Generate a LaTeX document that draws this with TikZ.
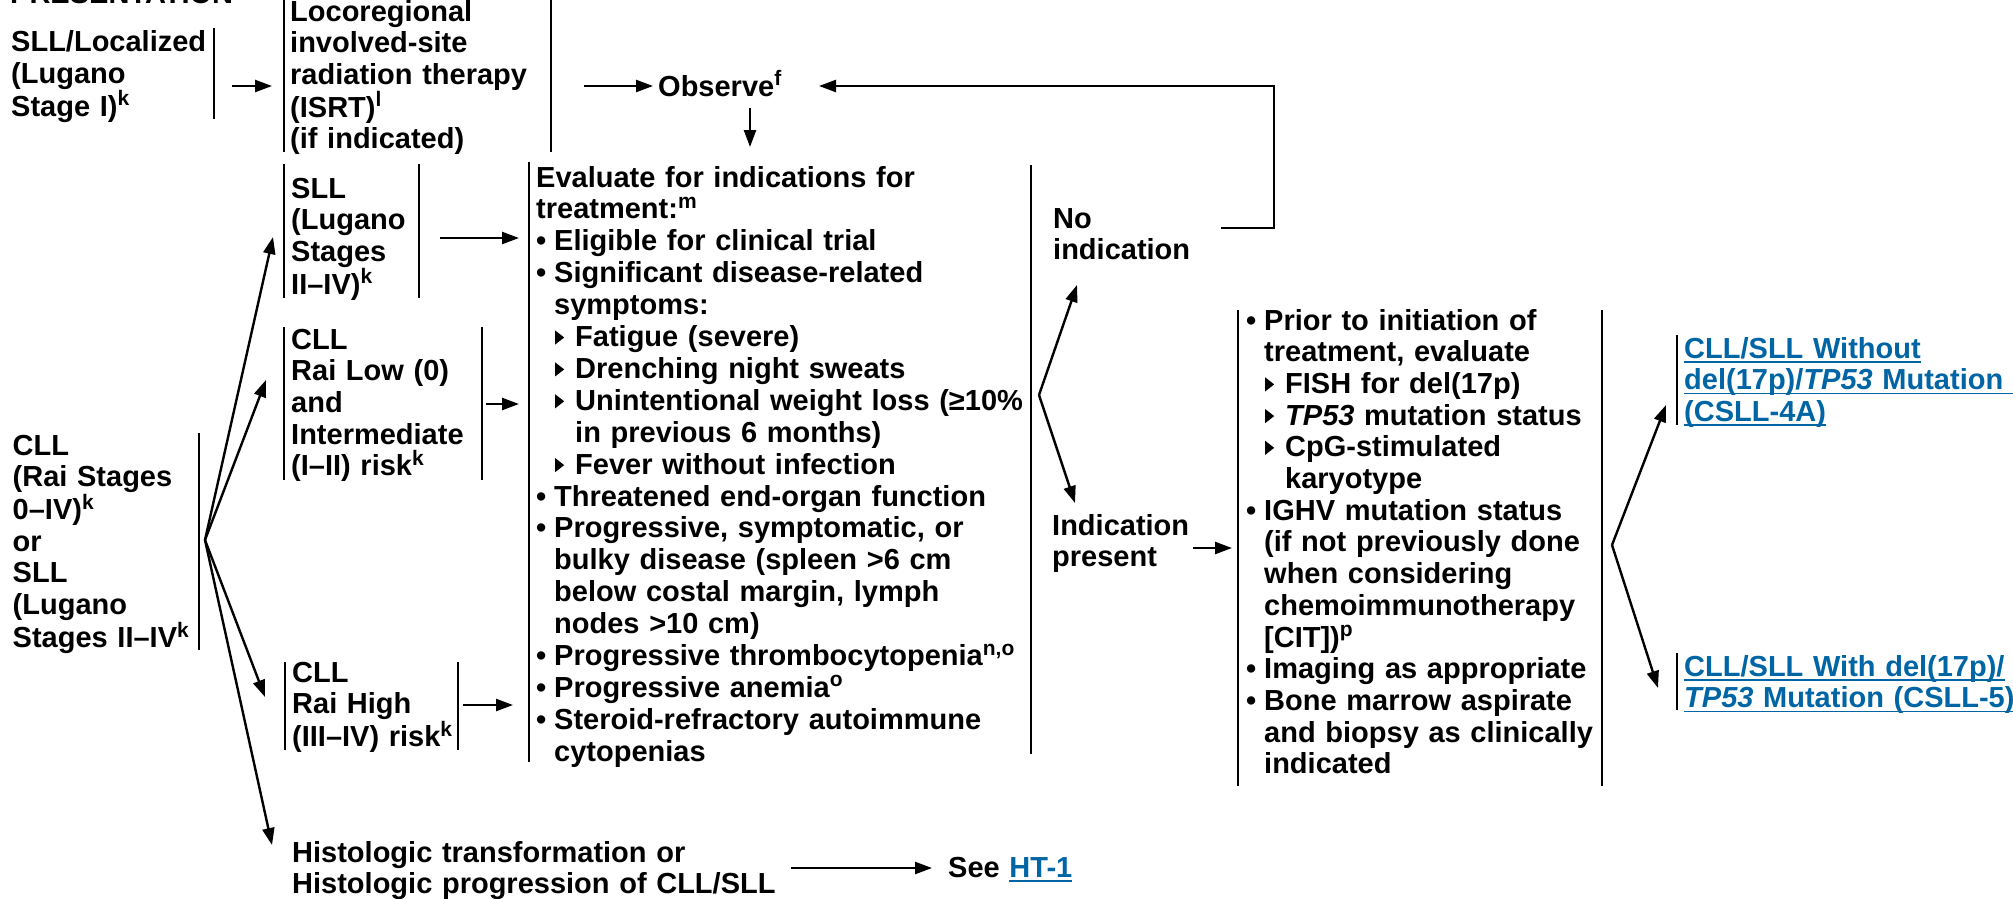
\documentclass[tikz,border=0pt]{standalone}
\usepackage{fontspec}
\setmainfont{Liberation Sans}
\usetikzlibrary{arrows.meta}
\definecolor{linkblue}{RGB}{0,101,164}
\newcommand\sps[1]{\raisebox{10.5pt}{\fontsize{21}{21}\selectfont #1}}
\newcommand\bul{\makebox[18pt][l]{•}}
\newcommand\ind{\hspace*{18pt}}
\newcommand\tri{\tikz[x=1pt,y=1pt,baseline=0pt]\fill (0,2) -- (0,16) -- (9,9) -- cycle;}
\newcommand\subb{\hspace*{19pt}\makebox[20pt][l]{\tri}}
\newcommand\subind{\hspace*{39pt}}
\newsavebox\lnkbox
\newcommand\lnk[1]{\textcolor{linkblue}{\sbox\lnkbox{#1}\rlap{\rule[-4.5pt]{\wd\lnkbox}{1.6pt}}\usebox\lnkbox}}
\begin{document}
\begin{tikzpicture}[x=1pt,y=-1pt,
  txt/.style={anchor=base west, inner sep=0pt, align=left, text width=560pt,
    font=\bfseries\fontsize{29}{31.7}\selectfont},
  etxt/.style={txt, font=\bfseries\fontsize{29}{31.9}\selectfont},
  bar/.style={line width=2.4pt},
  arr/.style={line width=2.4pt,-{Triangle[length=17pt,width=12pt]}}]
\useasboundingbox (0,0) rectangle (2013,898);

% ---- texts ----
\node[txt] (pres) at (10,3) {PRESENTATION};
\node[txt] (A) at (11,51.5) {SLL/Localized\\(Lugano\\Stage I)\sps{k}};
\node[txt] (B) at (290,21) {Locoregional\\involved-site\\radiation therapy\\(ISRT)\sps{l}\\(if indicated)};
\node[txt] (obs) at (658,96) {Observe\sps{f}};
\node[txt] (sll) at (291,198) {SLL\\(Lugano\\Stages\\II–IV)\sps{k}};
\node[txt] (rlow) at (291,349) {CLL\\Rai Low (0)\\and\\Intermediate\\(I–II) risk\sps{k}};
\node[txt] (rhigh) at (292,682) {CLL\\Rai High\\(III–IV) risk\sps{k}};
\node[txt] (cll) at (12.5,455) {CLL\\(Rai Stages\\0–IV)\sps{k}\\or\\SLL\\(Lugano\\Stages II–IV\sps{k}};
\node[txt] (hist) at (292,862) {Histologic transformation or\\Histologic progression of CLL/SLL};
\node[txt] (see) at (948,877) {See \lnk{HT-1}};
\node[etxt] (E) at (536,187) {Evaluate for indications for\\
treatment:\sps{m}\\
\bul Eligible for clinical trial\\
\bul Significant disease-related\\
\ind symptoms:\\
\subb Fatigue (severe)\\
\subb Drenching night sweats\\
\subb Unintentional weight loss (≥10\%\\
\subind in previous 6 months)\\
\subb Fever without infection\\
\bul Threatened end-organ function\\
\bul Progressive, symptomatic, or\\
\ind bulky disease (spleen >6 cm\\
\ind below costal margin, lymph\\
\ind nodes >10 cm)\\
\bul Progressive thrombocytopenia\sps{n,o}\\
\bul Progressive anemia\sps{o}\\
\bul Steroid-refractory autoimmune\\
\ind cytopenias};
\node[txt] (noind) at (1053,228) {No\\indication};
\node[txt] (indp) at (1052,535) {Indication\\present};
\node[txt] (R) at (1246,330) {\bul Prior to initiation of\\
\ind treatment, evaluate\\
\subb FISH for del(17p)\\
\subb \textit{TP53} mutation status\\
\subb CpG-stimulated\\
\subind karyotype\\
\bul IGHV mutation status\\
\ind (if not previously done\\
\ind when considering\\
\ind chemoimmunotherapy\\
\ind [CIT])\sps{p}\\
\bul Imaging as appropriate\\
\bul Bone marrow aspirate\\
\ind and biopsy as clinically\\
\ind indicated};
\node[txt] (L1) at (1684,358) {\lnk{CLL/SLL Without}\\\lnk{del(17p)/\textit{TP53} Mutation\ }\\\lnk{(CSLL-4A)}};
\node[txt] (L2) at (1684,676) {\lnk{CLL/SLL With del(17p)/}\\\lnk{\textit{TP53} Mutation (CSLL-5)}};

% ---- bars ----
\draw[bar] (214,28) -- (214,119);
\draw[bar] (284,0) -- (284,152);
\draw[bar] (551,0) -- (551,152);
\draw[bar] (284,164) -- (284,298);
\draw[bar] (419,164) -- (419,298);
\draw[bar] (284,327) -- (284,480);
\draw[bar] (482,327) -- (482,480);
\draw[bar] (285,662) -- (285,750);
\draw[bar] (458,662) -- (458,750);
\draw[bar] (199,433) -- (199,650);
\draw[bar] (529,162) -- (529,762);
\draw[bar] (1031,165) -- (1031,754);
\draw[bar] (1238,310) -- (1238,786);
\draw[bar] (1602,310) -- (1602,786);
\draw[bar] (1677,335) -- (1677,425);
\draw[bar] (1677,653) -- (1677,710);

% ---- connector points ----
\coordinate (a1) at (232,86);   \coordinate (b1) at (272,86);
\coordinate (b2) at (584,86);   \coordinate (o1) at (653,86);
\coordinate (o2) at (750,108);  \coordinate (e0) at (750,147);
\coordinate (n1) at (1221,228); \coordinate (n2) at (1274,228);
\coordinate (n3) at (1274,86);  \coordinate (o3) at (819,86);
\coordinate (fan) at (205,540);
\coordinate (tS) at (273,237);  \coordinate (tL) at (266,380);
\coordinate (tH) at (265,697);  \coordinate (tT) at (272,845);
\coordinate (s1) at (440,238);  \coordinate (s2) at (519,238);
\coordinate (l1) at (486,404);  \coordinate (l2) at (519,404);
\coordinate (h1) at (463,705);  \coordinate (h2) at (513,705);
\coordinate (x1) at (791,868);  \coordinate (x2) at (932,868);
\coordinate (esp) at (1039,395);
\coordinate (tN) at (1077,285); \coordinate (tI) at (1075,503);
\coordinate (i1) at (1193,548); \coordinate (i2) at (1232,548);
\coordinate (rsp) at (1612,545);
\coordinate (t4) at (1666,405); \coordinate (t5) at (1658,688);

% ---- connectors ----
\draw[arr] (a1) -- (b1);
\draw[arr] (b2) -- (o1);
\draw[arr] (o2) -- (e0);
\draw[arr] (n1) -- (n2) -- (n3) -- (o3);
\draw[arr] (fan) -- (tS);
\draw[arr] (fan) -- (tL);
\draw[arr] (fan) -- (tH);
\draw[arr] (fan) -- (tT);
\draw[arr] (s1) -- (s2);
\draw[arr] (l1) -- (l2);
\draw[arr] (h1) -- (h2);
\draw[arr] (x1) -- (x2);
\draw[arr] (esp) -- (tN);
\draw[arr] (esp) -- (tI);
\draw[arr] (i1) -- (i2);
\draw[arr] (rsp) -- (t4);
\draw[arr] (rsp) -- (t5);
\end{tikzpicture}
\end{document}
